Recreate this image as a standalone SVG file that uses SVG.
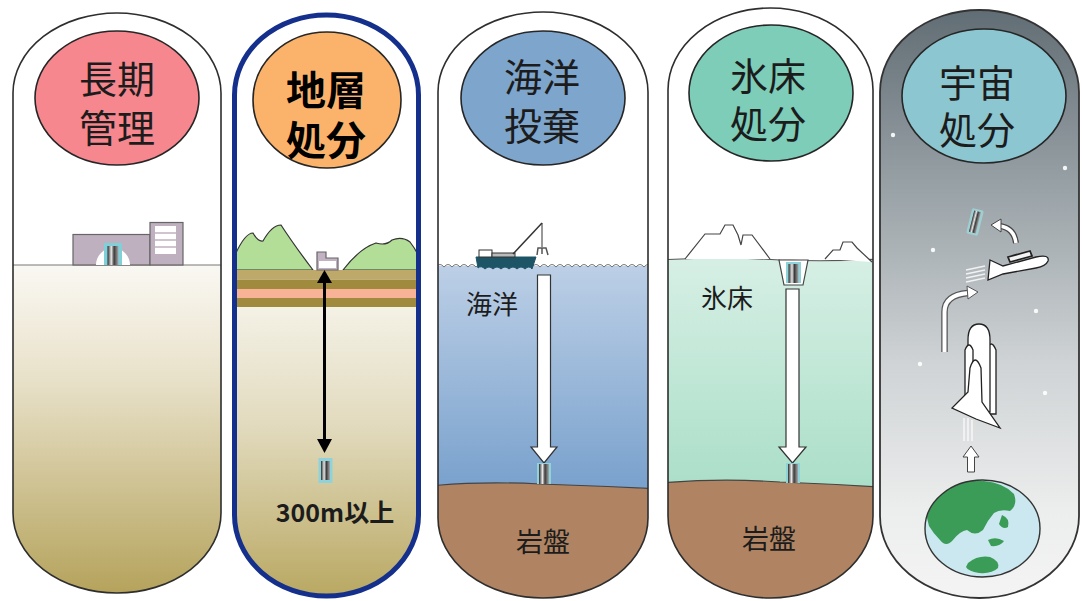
<svg xmlns="http://www.w3.org/2000/svg" width="1082" height="601" viewBox="0 0 1082 601">
  <style>
    .cap { fill: none; stroke: #2e2e2e; stroke-width: 1.6; }
    .title { font-family: "Noto Sans CJK JP", "Noto Sans", sans-serif; font-size: 38px; fill: #1c1c1c; text-anchor: middle; dominant-baseline: central; }
    .bold { font-weight: 700; fill: #000; }
    .label { font-family: "Noto Sans CJK JP", "Noto Sans", sans-serif; font-size: 26px; fill: #1c1c1c; text-anchor: middle; dominant-baseline: central; }
    .badge { stroke: #262626; stroke-width: 1.6; }
    .white { fill: #fff; stroke: #333; stroke-width: 1.2; }
    .star { fill: #fff; opacity: 0.9; }
  </style>
  <defs>
    <clipPath id="clip1"><path d="M13,93 A104,80 0 0 1 221,93 L221,513 A104,80 0 0 1 13,513 Z"/></clipPath>
    <clipPath id="clip2"><path d="M234.5,95 A92,80 0 0 1 418.5,95 L418.5,515 A92,81 0 0 1 234.5,515 Z"/></clipPath>
    <clipPath id="clip3"><path d="M438,92 A105,80 0 0 1 648,92 L648,518 A105,80 0 0 1 438,518 Z"/></clipPath>
    <clipPath id="clip4"><path d="M668,90 A102.5,82 0 0 1 873,90 L873,516 A102.5,82 0 0 1 668,516 Z"/></clipPath>
    <clipPath id="clip5"><path d="M880,92 A99.5,82 0 0 1 1079,92 L1079,516 A99.5,82 0 0 1 880,516 Z"/></clipPath>
    <clipPath id="earthClip"><ellipse cx="982.5" cy="528.5" rx="57.5" ry="48.5"/></clipPath>

    <linearGradient id="soil1" x1="0" y1="265" x2="0" y2="593" gradientUnits="userSpaceOnUse">
      <stop offset="0" stop-color="#faf8f3"/>
      <stop offset="0.35" stop-color="#e8e1c9"/>
      <stop offset="1" stop-color="#b5a35c"/>
    </linearGradient>
    <linearGradient id="soil2" x1="0" y1="307" x2="0" y2="597" gradientUnits="userSpaceOnUse">
      <stop offset="0" stop-color="#f4f1e6"/>
      <stop offset="0.4" stop-color="#e2dbbf"/>
      <stop offset="1" stop-color="#b9a862"/>
    </linearGradient>
    <linearGradient id="sea" x1="0" y1="266" x2="0" y2="485" gradientUnits="userSpaceOnUse">
      <stop offset="0" stop-color="#bccfe6"/>
      <stop offset="1" stop-color="#7aa2cd"/>
    </linearGradient>
    <linearGradient id="ice" x1="0" y1="260" x2="0" y2="482" gradientUnits="userSpaceOnUse">
      <stop offset="0" stop-color="#d6efe4"/>
      <stop offset="1" stop-color="#acdfca"/>
    </linearGradient>
    <linearGradient id="space" x1="0" y1="10" x2="0" y2="598" gradientUnits="userSpaceOnUse">
      <stop offset="0" stop-color="#616d74"/>
      <stop offset="0.3" stop-color="#98a1a6"/>
      <stop offset="0.6" stop-color="#cfd3d5"/>
      <stop offset="0.85" stop-color="#eceded"/>
      <stop offset="1" stop-color="#f4f4f4"/>
    </linearGradient>
    <linearGradient id="can" x1="0" y1="0" x2="1" y2="0">
      <stop offset="0" stop-color="#2a2a2a"/>
      <stop offset="0.35" stop-color="#e6e6e6"/>
      <stop offset="0.6" stop-color="#3c3c3c"/>
      <stop offset="1" stop-color="#a8a8a8"/>
    </linearGradient>
  </defs>

  <!-- Panel 1: long-term storage -->
  <g id="panel-storage">
    <g clip-path="url(#clip1)">
      <rect x="0" y="0" width="240" height="265" fill="#fff"/>
      <rect x="0" y="265" width="240" height="340" fill="url(#soil1)"/>
      <line x1="0" y1="265" x2="240" y2="265" stroke="#777" stroke-width="1"/>
    </g>
    <!-- facility building -->
    <rect x="73" y="234.5" width="77" height="30.5" fill="#bfb0bf" stroke="#666" stroke-width="1.2"/>
    <rect x="150" y="222.5" width="33" height="42.5" fill="#bfb0bf" stroke="#666" stroke-width="1.2"/>
    <rect x="155" y="226" width="21" height="28" fill="#fff"/>
    <g stroke="#bfb0bf" stroke-width="1.5">
      <line x1="155" y1="233" x2="176" y2="233"/>
      <line x1="155" y1="240" x2="176" y2="240"/>
      <line x1="155" y1="247" x2="176" y2="247"/>
    </g>
    <path d="M96,265 A17,17 0 0 1 130,265 Z" fill="#fff"/>
    <path d="M104,265 L104,243 L122,243 L122,265" fill="#7fd0d8"/>
    <rect x="107.5" y="246" width="11" height="19" fill="url(#can)"/>
    <path class="cap" d="M13,93 A104,80 0 0 1 221,93 L221,513 A104,80 0 0 1 13,513 Z"/>
    <ellipse class="badge" cx="117" cy="98" rx="82" ry="67" fill="#f6878e"/>
    <text class="title"><tspan x="117" y="76">長期</tspan><tspan x="117" y="125">管理</tspan></text>
  </g>

  <!-- Panel 2: geological disposal -->
  <g id="panel-geological">
    <g clip-path="url(#clip2)">
      <rect x="220" y="0" width="210" height="270" fill="#fff"/>
      <path d="M225,280 L235,255 Q245,233 253,233 Q258,242 263,241 Q272,225 281,225 Q294,245 313,270 L225,270 Z" fill="#b2de97" stroke="#333" stroke-width="1.2"/>
      <path d="M343,270 Q360,248 376,243 Q386,246 392,240 Q402,236 410,242 Q418,252 425,270 Z" fill="#b2de97" stroke="#333" stroke-width="1.2"/>
      <rect x="220" y="270" width="210" height="9.5" fill="#bea96a"/>
      <rect x="220" y="279.5" width="210" height="9.5" fill="#a08a3e"/>
      <rect x="220" y="289" width="210" height="9" fill="#f8b396"/>
      <rect x="220" y="298" width="210" height="9" fill="#a08a3e"/>
      <rect x="220" y="307" width="210" height="295" fill="url(#soil2)"/>
    </g>
    <path d="M317,270 L317,252 L326,252 L326,258 L338,258 L338,270 Z" fill="#c2b2c4" stroke="#666" stroke-width="1.2"/>
    <rect x="319" y="261" width="17" height="7" fill="#fff"/>
    <!-- depth marker -->
    <line x1="324.5" y1="281" x2="324.5" y2="441" stroke="#000" stroke-width="3"/>
    <polygon points="324.5,270 317,283 332,283" fill="#000"/>
    <polygon points="324.5,453 317,439 332,439" fill="#000"/>
    <rect x="318.5" y="458" width="14" height="25" fill="#8ed3da"/>
    <rect x="321" y="461" width="9" height="19" fill="url(#can)"/>
    <text class="label bold" x="335" y="511" style="font-size:25px">300m以上</text>
    <path d="M234.5,95 A92,80 0 0 1 418.5,95 L418.5,515 A92,81 0 0 1 234.5,515 Z" fill="none" stroke="#14308c" stroke-width="5"/>
    <ellipse class="badge" cx="327" cy="100" rx="74" ry="68" fill="#fbb36b"/>
    <text class="title bold" style="font-size:40px"><tspan x="326" y="88">地層</tspan><tspan x="326" y="138">処分</tspan></text>
  </g>

  <!-- Panel 3: ocean dumping -->
  <g id="panel-ocean">
    <g clip-path="url(#clip3)">
      <rect x="430" y="0" width="230" height="266" fill="#fff"/>
      <rect x="430" y="266" width="230" height="222" fill="url(#sea)"/>
      <path d="M430,486 Q480,481 540,484 Q600,486 660,489 L660,610 L430,610 Z" fill="#b08462" stroke="#444" stroke-width="1.2"/>
      <path d="M436,267 q4,-5 8,0 q4,-5 8,0 q4,-5 8,0 q4,-5 8,0 q4,-5 8,0 q4,-5 8,0 q4,-5 8,0 q4,-5 8,0 q4,-5 8,0 q4,-5 8,0 q4,-5 8,0 q4,-5 8,0 q4,-5 8,0 q4,-5 8,0 q4,-5 8,0 q4,-5 8,0 q4,-5 8,0 q4,-5 8,0 q4,-5 8,0 q4,-5 8,0 q4,-5 8,0 q4,-5 8,0 q4,-5 8,0 q4,-5 8,0 q4,-5 8,0 q4,-5 8,0 q4,-5 8,0" fill="none" stroke="#777" stroke-width="1"/>
    </g>
    <!-- vessel with crane -->
    <path d="M476,257 L536,257 L532,269 Q529,265 525,269 Q521,265 517,269 Q513,265 509,269 Q505,265 501,269 Q497,265 493,269 Q489,265 485,269 Q481,265 478,268 Z" fill="#1d5567" stroke="#1d5567" stroke-width="1"/>
    <rect x="479" y="250" width="13" height="7" fill="#fff" stroke="#333" stroke-width="1"/>
    <rect x="492" y="253" width="23" height="4" fill="#bbb" stroke="#333" stroke-width="1"/>
    <line x1="513" y1="254" x2="542" y2="223" stroke="#333" stroke-width="1.5"/>
    <line x1="542" y1="223" x2="542" y2="247" stroke="#333" stroke-width="1"/>
    <path d="M537,255 L538,248 L546,248 L548,255 M542,248 L542,254" fill="none" stroke="#555" stroke-width="1.5"/>
    <!-- sinking path -->
    <path d="M537.5,275 L550.5,275 L550.5,447 L557,447 L544,463 L531,447 L537.5,447 Z" class="white"/>
    <rect x="537" y="463" width="14" height="21" fill="#8ed3da"/>
    <rect x="539" y="464" width="10" height="20" fill="url(#can)"/>
    <text class="label" x="492" y="302">海洋</text>
    <text class="label" x="543" y="540" style="font-size:27px">岩盤</text>
    <path class="cap" d="M438,92 A105,80 0 0 1 648,92 L648,518 A105,80 0 0 1 438,518 Z"/>
    <ellipse class="badge" cx="543" cy="98" rx="82" ry="67" fill="#7ea5cc"/>
    <text class="title"><tspan x="542" y="74">海洋</tspan><tspan x="542" y="123">投棄</tspan></text>
  </g>

  <!-- Panel 4: ice sheet disposal -->
  <g id="panel-icesheet">
    <g clip-path="url(#clip4)">
      <rect x="660" y="0" width="220" height="260" fill="#fff"/>
      <path d="M660,260 Q720,256 780,260 Q830,262 880,259 L880,490 L660,490 Z" fill="url(#ice)"/>
      <path d="M660,260 Q720,256 780,260 Q830,262 880,259" fill="none" stroke="#555" stroke-width="1.1"/>
      <path d="M660,483 Q720,478 780,482 Q830,484 880,487 L880,610 L660,610 Z" fill="#b08462" stroke="#444" stroke-width="1.2"/>
      <path d="M685,259 L705,234 L720,234 L725,225 L733,225 L738,235 L741,245 L743,235 L752,235 L770,259" fill="#fff" stroke="#444" stroke-width="1.2"/>
      <path d="M825,259 L833,250 L840,250 L843,242 L852,242 L857,248 L872,262" fill="#fff" stroke="#444" stroke-width="1.2"/>
    </g>
    <path d="M779,260 L808,260 L803,285 L784,285 Z" fill="#fff" stroke="#444" stroke-width="1.2"/>
    <rect x="786" y="262" width="15" height="21" fill="#8ed3da"/>
    <rect x="788.5" y="264" width="10" height="19" fill="url(#can)"/>
    <path d="M786,289 L799,289 L799,447 L806,447 L792.5,463 L779,447 L786,447 Z" class="white"/>
    <rect x="786" y="463" width="14" height="20" fill="#8ed3da"/>
    <rect x="788" y="464" width="10" height="19" fill="url(#can)"/>
    <text class="label" x="727" y="296">氷床</text>
    <text class="label" x="769" y="537" style="font-size:27px">岩盤</text>
    <path class="cap" d="M668,90 A102.5,82 0 0 1 873,90 L873,516 A102.5,82 0 0 1 668,516 Z"/>
    <ellipse class="badge" cx="771" cy="93" rx="82" ry="68" fill="#7dcdb8"/>
    <text class="title"><tspan x="768" y="73">氷床</tspan><tspan x="768" y="121">処分</tspan></text>
  </g>

  <!-- Panel 5: space disposal -->
  <g id="panel-space">
    <g clip-path="url(#clip5)">
      <rect x="870" y="0" width="215" height="605" fill="url(#space)"/>
    </g>
    <g class="stars">
      <circle class="star" cx="893" cy="135" r="2.2"/>
      <circle class="star" cx="1065" cy="168" r="2.2"/>
      <circle class="star" cx="933" cy="250" r="2.2"/>
      <circle class="star" cx="1036" cy="311" r="2.2"/>
      <circle class="star" cx="920" cy="364" r="2.2"/>
      <circle class="star" cx="1045" cy="393" r="2.2"/>
    </g>
    <!-- released canister -->
    <g transform="rotate(14 975 222)">
      <rect x="969" y="209" width="12" height="26" rx="2" fill="#9ed8dc" opacity="0.8"/>
      <rect x="971.5" y="211" width="7" height="22" fill="url(#can)"/>
    </g>
    <!-- curved release arrow -->
    <path d="M1016,243 Q1014,228 1000,226" fill="none" stroke="#444" stroke-width="6"/>
    <path d="M1016,243 Q1014,228 1000,226" fill="none" stroke="#fff" stroke-width="3.5"/>
    <polygon points="991,225 1001,219 1001,232" fill="#fff" stroke="#444" stroke-width="1"/>
    <!-- orbiter in space -->
    <g fill="#fff" stroke="#222" stroke-width="1.3">
      <path d="M990,260 L1003,266 L1036,257 Q1050,254 1048,261 Q1046,266 1036,268 L1003,274 L988,280 Z"/>
      <path d="M1008,257 L1030,251 L1032,256 L1010,262 Z" fill="#f4f4f4" stroke-width="1.8"/>
    </g>
    <g stroke="#f2f2f2" stroke-width="1.4">
      <line x1="966" y1="270" x2="985" y2="266"/>
      <line x1="966" y1="274" x2="985" y2="270"/>
      <line x1="966" y1="278" x2="985" y2="274"/>
      <line x1="966" y1="282" x2="985" y2="278"/>
    </g>
    <!-- ascent arrow -->
    <path d="M944.5,352 L944.5,312 Q944.5,295 968,293" fill="none" stroke="#555" stroke-width="6.5"/>
    <path d="M944.5,352 L944.5,312 Q944.5,295 968,293" fill="none" stroke="#fff" stroke-width="4"/>
    <polygon points="978,292 967,286 968,299" fill="#fff" stroke="#555" stroke-width="1"/>
    <!-- launch vehicle -->
    <g fill="#fff" stroke="#222" stroke-width="1.3">
      <path d="M987,350 Q991,338 996,350 L996,414 L987,414 Z"/>
      <path d="M968,340 Q968,324 979,324 Q990,324 990,340 L990,412 L968,412 Z"/>
      <path d="M965,350 Q969,340 973,350 L973,402 L965,402 Z"/>
      <path d="M970,368 Q975,352 981,368 L982,402 L1000,428 L976,419 L952,408 L968,392 Z"/>
    </g>
    <g stroke="#fafafa" stroke-width="1.6" opacity="0.85">
      <line x1="964" y1="418" x2="964" y2="441"/>
      <line x1="968" y1="418" x2="968" y2="441"/>
      <line x1="972" y1="420" x2="972" y2="441"/>
    </g>
    <path d="M967.5,472 L967.5,457 L963,457 L971,446 L979,457 L974.5,457 L974.5,472 Z" fill="#fff" stroke="#444" stroke-width="1"/>
    <!-- earth -->
    <ellipse cx="982.5" cy="528.5" rx="57.5" ry="48.5" fill="#cbe7ef"/>
    <g clip-path="url(#earthClip)" fill="#3a9c57">
      <path d="M925,510 Q933,492 948,486 Q966,478 984,481 Q1004,483 1014,494 Q1018,505 1010,511 Q1000,509 994,513 Q987,521 983,530 Q975,537 967,530 Q960,531 953,540 Q946,548 940,540 Q933,533 929,526 Z"/>
      <path d="M1002,515 Q1010,518 1008,527 Q1003,530 999,524 Z"/>
      <path d="M988,540 Q996,536 1004,541 Q1000,547 991,546 Z"/>
      <path d="M968,563 Q978,555 990,557 Q1000,561 998,568 Q992,574 979,573 Q968,571 966,567 Z"/>
    </g>
    <ellipse cx="982.5" cy="528.5" rx="57.5" ry="48.5" fill="none" stroke="#333" stroke-width="1.4"/>
    <path d="M880,92 A99.5,82 0 0 1 1079,92 L1079,516 A99.5,82 0 0 1 880,516 Z" fill="none" stroke="#333" stroke-width="1.8"/>
    <ellipse class="badge" cx="984" cy="96" rx="82" ry="67" fill="#8cc6d0"/>
    <text class="title"><tspan x="977" y="80">宇宙</tspan><tspan x="977" y="127">処分</tspan></text>
  </g>
</svg>
